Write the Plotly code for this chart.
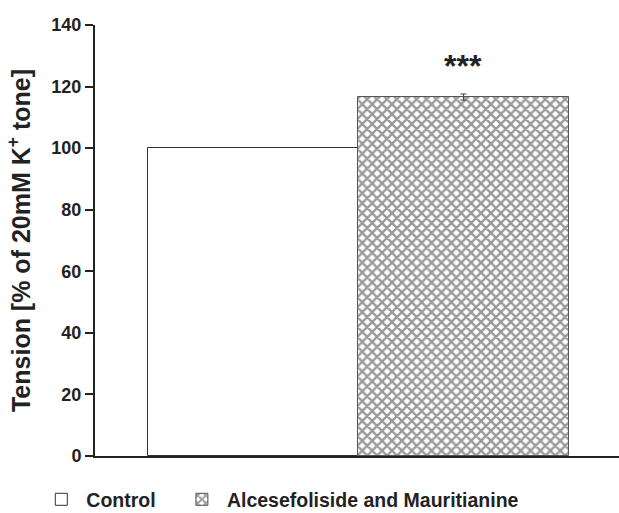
import plotly.graph_objects as go

categories = ["Control", "Alcesefoliside and Mauritianine"]
values = [100.0, 116.6]
errors = [0.0, 1.0]
y_ticks = [0, 20, 40, 60, 80, 100, 120, 140]
significance = "***"

NBSP = "\u00a0"
fig = go.Figure()
fig.add_trace(go.Bar(
    x=[0], y=[values[0]], name="<b>" + categories[0] + "</b>" + NBSP * 3, width=1.0,
    marker=dict(color="white", line=dict(color="#333333", width=1)),
    error_y=dict(type="data", array=[errors[0]], visible=False),
))
fig.add_trace(go.Bar(
    x=[1], y=[values[1]], name="<b>" + categories[1] + "</b>", width=1.0,
    marker=dict(color="white", line=dict(color="#555555", width=1),
                pattern=dict(shape="x", fgcolor="#333333", bgcolor="white",
                             size=7, solidity=0.55)),
    error_y=dict(type="data", array=[errors[1]], color="#444444", thickness=1, width=3),
))

fig.add_annotation(x=1, y=values[1] + 10, text="<b>" + significance + "</b>",
                   showarrow=False, font=dict(size=32, color="#222222", family="Arial, Liberation Sans"))

fig.update_layout(
    width=619, height=513,
    margin=dict(l=95, r=0, t=25, b=57, autoexpand=False),
    plot_bgcolor="white", paper_bgcolor="white",
    barmode="overlay", bargap=0,
    font=dict(family="Arial, Liberation Sans, sans-serif", color="#222222"),
    showlegend=True,
    legend=dict(orientation="h", x=-0.112, xanchor="left", y=-0.056, yanchor="top",
                font=dict(size=19.5, color="#222222"), traceorder="normal",
                itemwidth=40, bgcolor="rgba(0,0,0,0)"),
    xaxis=dict(range=[-0.751, 1.739], showticklabels=False, ticks="",
               showgrid=False, zeroline=False, showline=True, linecolor="#222222", linewidth=2),
    yaxis=dict(range=[0, 140], tickvals=y_ticks, ticktext=["<b>%d</b>" % v for v in y_ticks],
               ticks="outside", ticklen=8, tickwidth=1.5, tickcolor="#222222",
               tickfont=dict(size=18, color="#222222"),
               showgrid=False, zeroline=False, showline=True, linecolor="#222222", linewidth=2,
               title=dict(text="<b>Tension [% of 20mM K<sup>+</sup> tone]</b>",
                          font=dict(size=25, color="#222222"), standoff=14)),
)
fig.write_html("out.html")
